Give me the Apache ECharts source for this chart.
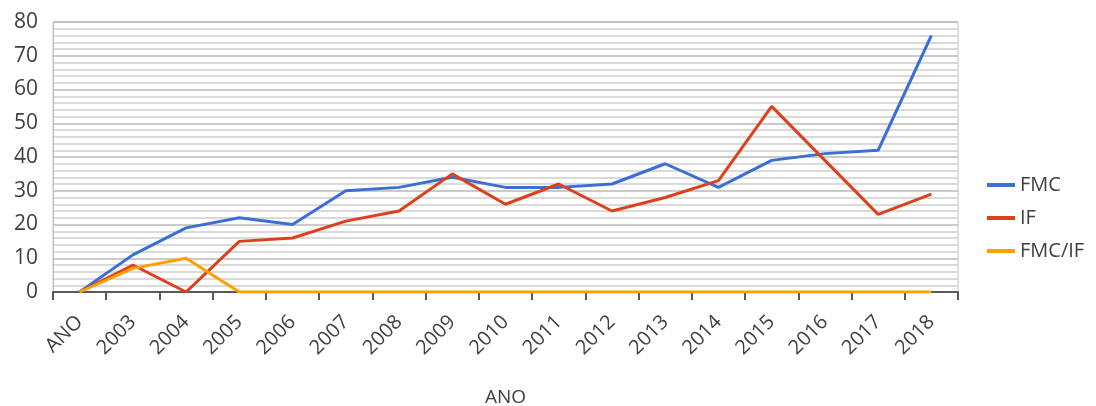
<!DOCTYPE html>
<html>
<head>
<meta charset="utf-8">
<script src="https://cdn.jsdelivr.net/npm/echarts@6/dist/echarts.min.js"></script>
<style>html,body{margin:0;padding:0;background:#fff}#c{width:1096px;height:406px}</style>
</head>
<body>
<div id="c"></div>
<script>
var categories = ['ANO','2003','2004','2005','2006','2007','2008','2009','2010','2011','2012','2013','2014','2015','2016','2017','2018'];
var fmc   = [0, 11, 19, 22, 20, 30, 31, 34, 31, 31, 32, 38, 31, 39, 41, 42, 76];
var ifv   = [0, 8, 0, 15, 16, 21, 24, 35, 26, 32, 24, 28, 33, 55, 39, 23, 29];
var fmcIf = [0, 7, 10, 0, 0, 0, 0, 0, 0, 0, 0, 0, 0, 0, 0, 0, 0];
var yTicks = [0, 10, 20, 30, 40, 50, 60, 70, 80];

var font = '"Open Sans", "Noto Sans", sans-serif';
var chart = echarts.init(document.getElementById('c'));
function mk(name, data, color) {
  return { name: name, type: 'line', data: data, symbol: 'none', smooth: false,
    lineStyle: { width: 3, color: color }, itemStyle: { color: color } };
}
chart.setOption({
  animation: false,
  grid: { left: 53, right: 138, top: 22, bottom: 114, containLabel: false, outerBoundsMode: 'none',
    show: true, borderColor: '#bfbfbf', borderWidth: 1, backgroundColor: 'transparent' },
  legend: {
    orient: 'vertical', left: 982, top: 170, icon: 'rect', itemWidth: 28, itemHeight: 4, itemGap: 13,
    textStyle: { fontFamily: font, fontSize: 20, color: '#404040', lineHeight: 20 },
    data: ['FMC', 'IF', 'FMC/IF']
  },
  xAxis: {
    type: 'category', data: categories, boundaryGap: true,
    name: 'ANO', nameLocation: 'middle', nameGap: 96,
    nameTextStyle: { fontFamily: font, fontSize: 19, color: '#404040' },
    axisLine: { lineStyle: { color: '#595959', width: 2 } },
    axisTick: { show: true, length: 8, alignWithLabel: false, lineStyle: { color: '#595959', width: 2 } },
    axisLabel: { rotate: 45, margin: 27, fontFamily: font, fontSize: 20, color: '#404040' },
    splitLine: { show: false }
  },
  yAxis: {
    type: 'value', min: yTicks[0], max: yTicks[yTicks.length - 1], interval: 10,
    axisLine: { show: true, lineStyle: { color: '#bfbfbf' } },
    axisTick: { show: false },
    axisLabel: { margin: 15, fontFamily: font, fontSize: 21, color: '#404040' },
    splitLine: { show: true, lineStyle: { color: '#b8b8b8', width: 1.5 } },
    minorTick: { show: false, splitNumber: 5 },
    minorSplitLine: { show: true, lineStyle: { color: '#dadada', width: 2 } }
  },
  series: [ mk('FMC', fmc, '#3b6fd6'), mk('IF', ifv, '#dd411c'), mk('FMC/IF', fmcIf, '#ffa000') ]
});
</script>
</body>
</html>
